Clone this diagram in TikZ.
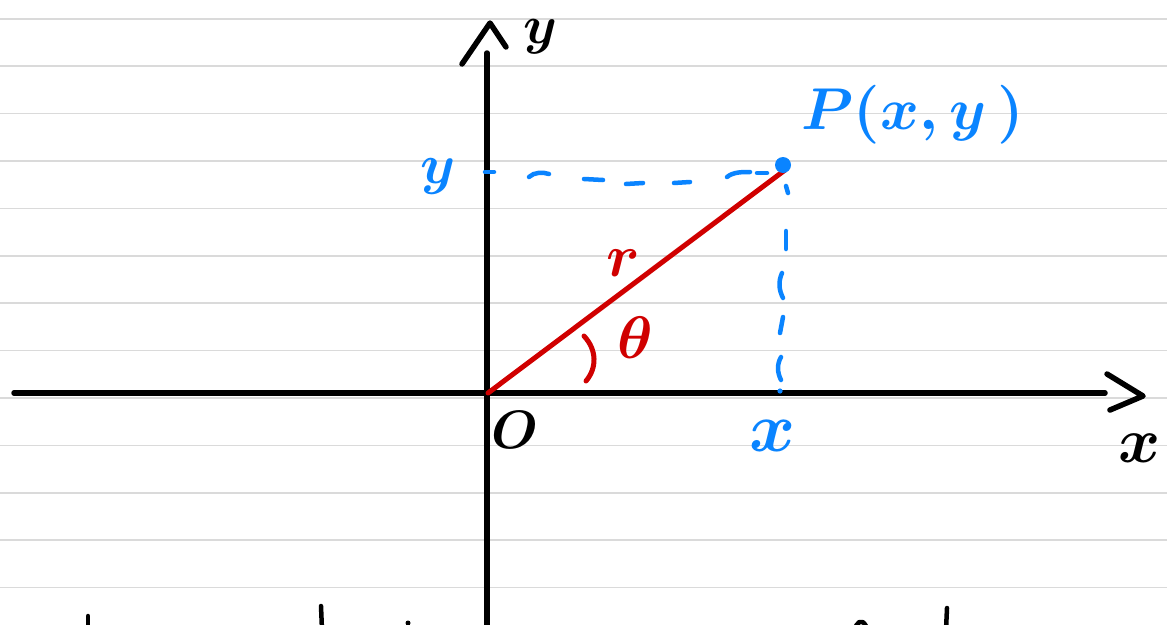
\documentclass[tikz,border=0pt]{standalone}
\definecolor{penblue}{RGB}{10,132,255}
\definecolor{penred}{RGB}{208,0,0}
\definecolor{ruleline}{RGB}{218,218,218}
\tikzset{
  axisline/.style={line width=5.5pt, line cap=round, line join=round, black},
  radius line/.style={line width=5pt, line cap=round, penred},
  bluedash/.style={line width=4.5pt, line cap=round, penblue},
  paperrule/.style={line width=1.6pt, ruleline},
  lbl/.style={inner sep=0pt, anchor=center, font=\boldmath},
}
\begin{document}
\begin{tikzpicture}[x=1pt,y=-1pt]
\useasboundingbox (0,0) rectangle (1167,624);
\clip (0,0) rectangle (1167,624);
\fill[white] (0,0) rectangle (1167,624);
% ruled paper
\foreach \k in {0,...,12}
  \draw[paperrule] (0,18.8+47.4*\k) -- (1167,18.8+47.4*\k);

% key points
\coordinate (O) at (488,393);
\coordinate (P) at (785,170);
\coordinate (xstart) at (14,393);
\coordinate (xend) at (1105,393);
\coordinate (ybottom) at (487,640);
\coordinate (ytop) at (487,53);
\coordinate (xa1) at (1107,374);
\coordinate (xa2) at (1143,396);
\coordinate (xa3) at (1110,410);
\coordinate (ya1) at (462,64);
\coordinate (ya2) at (490,23);
\coordinate (ya3) at (506,47);

% axes
\draw[axisline] (xstart) -- (xend);
\draw[axisline] (ybottom) -- (ytop);
\draw[axisline] (xa1) -- (xa2) -- (xa3);
\draw[axisline] (ya1) -- (ya2) -- (ya3);

% blue dashed projections
\draw[bluedash] (485,172) -- (494,172);
\draw[bluedash] (529,177) .. controls (534,172) and (543,172) .. (549,174);
\draw[bluedash] (584,179) -- (603,180);
\draw[bluedash] (626,184) -- (643,183);
\draw[bluedash] (674,183) -- (690,182);
\draw[bluedash] (727,177) .. controls (733,172) and (742,172) .. (750,172);
\draw[bluedash] (757,173) -- (767,173);
\draw[bluedash] (786,186) -- (788,193);
\draw[bluedash] (786,231) -- (786,249);
\draw[bluedash] (782,273) .. controls (778,282) and (779,290) .. (783,298);
\draw[bluedash] (783,317) -- (780,333);
\draw[bluedash] (781,357) .. controls (777,364) and (777,372) .. (781,380);
\fill[penblue] (780,391) circle (2.6);

% radius
\draw[radius line] (O) -- (P);
\fill[penblue] (783,165) circle (8);

% angle mark
\draw[radius line] (584,336) .. controls (597,350) and (597,368) .. (586,381);

% labels
\node[lbl] (ylab) at (540,37) {\scalebox{5.4}{$y$}};
\node[lbl, text=penblue] (yval) at (438,176) {\scalebox{5.6}{$y$}};
\node[lbl, text=penblue] (Plab) at (913,115) {\scalebox{5.9}{$P(x{,}\,y\,)$}};
\node[lbl, text=penred] (rlab) at (623,263) {\scalebox{6}{$r$}};
\node[lbl, text=penred] (thlab) at (635,338) {\scalebox{6}{$\theta$}};
\node[lbl] (Olab) at (515,430) {\scalebox{5.4}{$O$}};
\node[lbl, text=penblue] (xval) at (773,436) {\scalebox{7}{$x$}};
\node[lbl] (xlab) at (1140,448) {\scalebox{6.4}{$x$}};

% cut-off handwriting at the bottom edge
\draw[axisline, line width=4.5pt] (88,616) -- (88,630);
\draw[axisline, line width=4.5pt] (321,606) -- (322,630);
\fill (408,623) circle (2.5);
\draw[axisline, line width=4.5pt] (855,630) .. controls (856,622) and (862,618) .. (866,626);
\draw[axisline, line width=4.5pt] (947,608) -- (946,630);
\end{tikzpicture}
\end{document}
